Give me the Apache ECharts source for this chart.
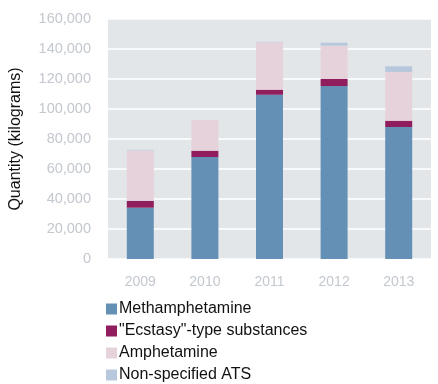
<!DOCTYPE html>
<html><head><meta charset="utf-8">
<script src="https://cdn.jsdelivr.net/npm/echarts@6/dist/echarts.min.js"></script>
<style>html,body{margin:0;padding:0;background:#fff}#c{width:438px;height:384px}</style>
</head><body><div id="c"></div>
<script>
const years = ['2009','2010','2011','2012','2013'];
const methamphetamine = [34200, 68000, 109500, 115300, 88000];
const ecstasy = [4600, 4200, 3400, 4700, 4200];
const amphetamine = [33600, 20500, 31600, 22200, 32500];
const nonSpecified = [400, 0, 300, 2000, 3800];
const yTicks = [0, 20000, 40000, 60000, 80000, 100000, 120000, 140000, 160000];

const font = '"Liberation Sans", Arial, sans-serif';
const chart = echarts.init(document.getElementById('c'));
const mk = (name, data, color) => ({
  name, type: 'bar', stack: 'a', data, barWidth: 27,
  itemStyle: { color }, emphasis: { disabled: true }
});
chart.setOption({
  animation: false,
  textStyle: { fontFamily: font },
  grid: { left: 101, right: 7, top: 19, bottom: 125, containLabel: false,
          show: true, backgroundColor: '#e3e6e9', borderWidth: 0 },
  legend: {
    orient: 'vertical', left: 106, top: 300, height: 84, itemGap: 4, padding: 0,
    itemWidth: 11, itemHeight: 11, icon: 'rect',
    textStyle: { fontSize: 16, color: '#111', fontFamily: font, padding: [0,0,0,-3], lineHeight: 18 },
    data: ['Methamphetamine', '"Ecstasy"-type substances', 'Amphetamine', 'Non-specified ATS']
  },
  xAxis: {
    type: 'category', data: years,
    axisLine: { show: false }, axisTick: { show: false },
    axisLabel: { color: '#c3c8ce', fontSize: 14, margin: 16 }
  },
  yAxis: {
    type: 'value', min: yTicks[0], max: yTicks[yTicks.length - 1], interval: 20000,
    name: 'Quantity (kilograms)', nameLocation: 'middle', nameGap: 84, nameRotate: 90,
    nameTextStyle: { color: '#111', fontSize: 16 },
    axisLine: { show: false }, axisTick: { show: false },
    axisLabel: { color: '#c3c8ce', fontSize: 14.5, margin: 17,
      formatter: v => v.toLocaleString('en-US') },
    splitLine: { lineStyle: { color: '#ffffff', width: 1.5 } }
  },
  series: [
    mk('Methamphetamine', methamphetamine, '#6590b5'),
    mk('"Ecstasy"-type substances', ecstasy, '#901d5e'),
    mk('Amphetamine', amphetamine, '#e6d2da'),
    mk('Non-specified ATS', nonSpecified, '#b7c8dd')
  ]
});
</script></body></html>
